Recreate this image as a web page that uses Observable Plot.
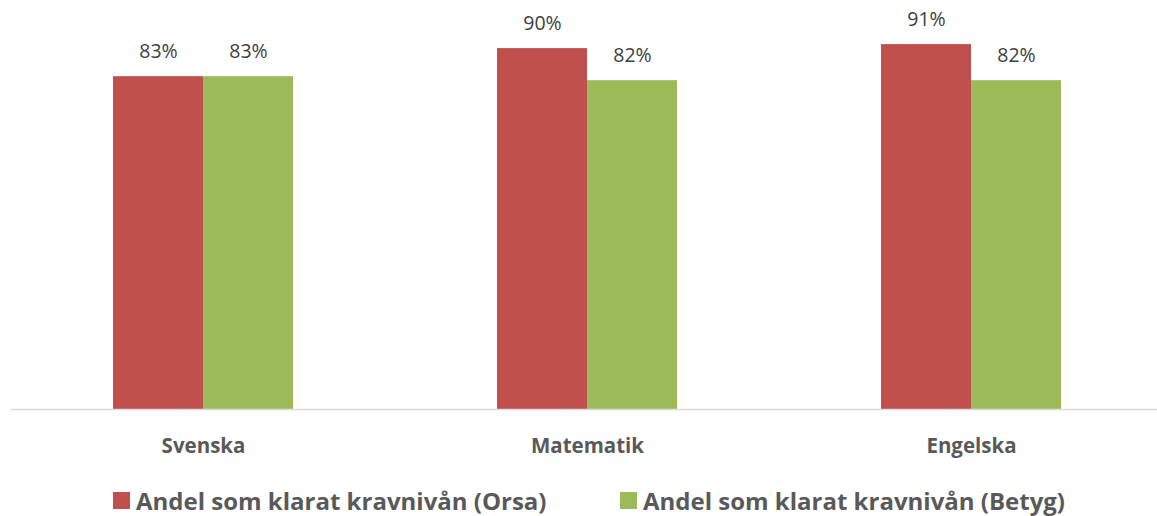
<!DOCTYPE html>
<html>
<head>
<meta charset="utf-8">
<script src="https://cdn.jsdelivr.net/npm/d3@7"></script>
<script src="https://cdn.jsdelivr.net/npm/@observablehq/plot@0.6"></script>
<style>
  body { margin: 0; background: #fff; font-family: "Open Sans", sans-serif; }
  #legend { display: flex; align-items: center; padding-left: 113px; height: 60px; margin-top: 0px; }
  .item { display: flex; align-items: center; font-weight: bold; font-size: 24px; color: #595959; }
  .item:first-child { width: 507px; }
  .sw { width: 17px; height: 17px; margin-right: 6px; }
</style>
</head>
<body>
<div id="chart"></div>
<div id="legend"></div>
<script>
const categories = ["Svenska", "Matematik", "Engelska"];
const seriesNames = ["Andel som klarat kravnivån (Orsa)", "Andel som klarat kravnivån (Betyg)"];
const orsaValues = [0.83, 0.90, 0.91];
const betygValues = [0.83, 0.82, 0.82];
const colors = ["#C0504D", "#9BBB59"];

const data = [];
categories.forEach((c, i) => {
  data.push({category: c, series: seriesNames[0], value: orsaValues[i]});
  data.push({category: c, series: seriesNames[1], value: betygValues[i]});
});

const fmt = d3.format(".0%");

const chart = Plot.plot({
  width: 1157,
  height: 470,
  marginTop: 8,
  marginBottom: 61,
  marginLeft: 10,
  marginRight: -6,
  style: {fontFamily: "Open Sans, sans-serif", background: "#fff"},
  fx: {domain: categories, padding: 0, label: null, axis: "bottom", tickSize: 0, tickPadding: 29},
  x: {domain: seriesNames, axis: null, paddingInner: 0, paddingOuter: 1.11},
  y: {domain: [0, 1], axis: null},
  color: {domain: seriesNames, range: colors},
  facet: {data, x: "category"},
  marks: [
    Plot.barY(data, {x: "series", y: "value", fill: "series"}),
    Plot.ruleY([0], {stroke: "#d9d9d9", strokeWidth: 1.5}),
    Plot.text(data, {x: "series", y: "value", text: d => fmt(d.value), dy: -25, fontSize: 19.5, fill: "#404040"})
  ]
});

d3.select(chart).selectAll("[aria-label='fx-axis tick label'] text, g[aria-label='fx-axis tick label']")
  .attr("font-size", 20.5).attr("font-weight", "bold").attr("fill", "#595959");

document.getElementById("chart").appendChild(chart);

const legend = d3.select("#legend");
seriesNames.forEach((s, i) => {
  const it = legend.append("div").attr("class", "item");
  it.append("div").attr("class", "sw").style("background", colors[i]);
  it.append("span").text(s);
});
</script>
</body>
</html>
